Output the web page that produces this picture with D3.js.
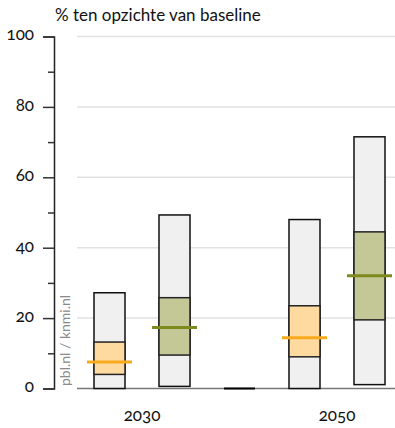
<!DOCTYPE html>
<html>
<head>
<meta charset="utf-8">
<script src="https://cdn.jsdelivr.net/npm/d3@7/dist/d3.min.js"></script>
<style>
  html, body { margin: 0; padding: 0; background: #fff; }
  svg { display: block; font-family: Lato, "Noto Sans", sans-serif; }
  text { font-variant-numeric: oldstyle-nums; font-feature-settings: "onum" 1; }
</style>
</head>
<body>
<svg id="chart" width="395" height="428"></svg>
<script>
// ---- data ----
const slots      = ["2030-a", "2030-b", "gap", "2050-a", "2050-b"];
const rangeLow   = [0,    0.6,  0, 0,    1.1];
const rangeHigh  = [27.2, 49.3, 0, 48.0, 71.5];
const bandLow    = [4.0,  9.5,  0, 9.0,  19.5];
const bandHigh   = [13.2, 25.8, 0, 23.5, 44.5];
const medians    = [7.5,  17.3, null, 14.4, 32.0];
const seriesKey  = ["orange", "green", "none", "orange", "green"];
const years      = ["2030", "2050"];
const yearSlots  = [["2030-a", "2030-b"], ["2050-a", "2050-b"]];
const yTicks     = [0, 20, 40, 60, 80, 100];
const yMinor     = [10, 30, 50, 70, 90];
const title      = "% ten opzichte van baseline";
const watermark  = "pbl.nl / knmi.nl";

const bandFill   = { orange: "#fed9a0", green: "#c4c897", none: "#eff0ef" };
const medianCol  = { orange: "#f7aa1c", green: "#7e8a1e", none: "none" };

const svg = d3.select("#chart");

const y = d3.scaleLinear().domain([0, 100]).range([388.5, 36.5]);
const x = d3.scaleBand().domain(slots).range([77, 402])
  .paddingInner(0.523).paddingOuter(0.2615);

// gridlines
svg.append("g").selectAll("line").data(yTicks.filter(d => d > 0)).join("line")
  .attr("x1", 77).attr("x2", 395)
  .attr("y1", d => y(d)).attr("y2", d => y(d))
  .attr("stroke", "#e2e2e2").attr("stroke-width", 1.5);

// baseline
svg.append("line").attr("x1", 77).attr("x2", 395)
  .attr("y1", y(0)).attr("y2", y(0))
  .attr("stroke", "#777").attr("stroke-width", 1.5);

// y axis
const yAxis = d3.axisLeft(y).tickValues(yTicks).tickSize(11).tickPadding(9)
  .tickFormat(d3.format("d"));
const gAxis = svg.append("g").attr("transform", "translate(54,0)").call(yAxis);
gAxis.select(".domain").attr("stroke", "#222").attr("stroke-width", 1.5);
gAxis.selectAll(".tick line").attr("stroke", "#333").attr("stroke-width", 1.5);
gAxis.selectAll(".tick text").attr("font-size", 17).attr("fill", "#111")
  .attr("font-family", "Lato").attr("dy", "0.2em");
const gMinor = svg.append("g").attr("transform", "translate(54,0)")
  .call(d3.axisLeft(y).tickValues(yMinor).tickSize(6).tickFormat(""));
gMinor.select(".domain").remove();
gMinor.selectAll(".tick line").attr("stroke", "#333").attr("stroke-width", 1.5);

// watermark
svg.append("text")
  .attr("transform", `translate(70,386) rotate(-90)`)
  .attr("font-size", 14).attr("fill", "#8a8a8a")
  .text(watermark);

// bars
const idx = d3.range(slots.length);
const g = svg.append("g");

// outer grey range boxes
g.selectAll("rect.range").data(idx).join("rect").attr("class", "range")
  .attr("x", i => x(slots[i]))
  .attr("width", x.bandwidth())
  .attr("y", i => y(rangeHigh[i]))
  .attr("height", i => y(rangeLow[i]) - y(rangeHigh[i]))
  .attr("fill", bandFill.none)
  .attr("stroke", "#111").attr("stroke-width", 1.5);

// inner coloured bands
g.selectAll("rect.band").data(idx.filter(i => bandHigh[i] > bandLow[i])).join("rect")
  .attr("class", "band")
  .attr("x", i => x(slots[i]))
  .attr("width", x.bandwidth())
  .attr("y", i => y(bandHigh[i]))
  .attr("height", i => y(bandLow[i]) - y(bandHigh[i]))
  .attr("fill", i => bandFill[seriesKey[i]])
  .attr("stroke", "#222").attr("stroke-width", 1.5);

// empty slot marker (zero-height box)
g.selectAll("line.zero").data(idx.filter(i => rangeHigh[i] === rangeLow[i])).join("line")
  .attr("class", "zero")
  .attr("x1", i => x(slots[i])).attr("x2", i => x(slots[i]) + x.bandwidth())
  .attr("y1", i => y(rangeLow[i])).attr("y2", i => y(rangeLow[i]))
  .attr("stroke", "#000").attr("stroke-width", 2);

// medians
g.selectAll("line.med").data(idx.filter(i => medians[i] !== null)).join("line")
  .attr("class", "med")
  .attr("x1", i => x(slots[i]) - 7).attr("x2", i => x(slots[i]) + x.bandwidth() + 7)
  .attr("y1", i => y(medians[i])).attr("y2", i => y(medians[i]))
  .attr("stroke", i => medianCol[seriesKey[i]]).attr("stroke-width", 3);

// year labels
svg.append("g").selectAll("text").data(years).join("text")
  .attr("x", (d, k) => d3.mean(yearSlots[k], s => x(s) + x.bandwidth() / 2))
  .attr("y", 421)
  .attr("text-anchor", "middle")
  .attr("font-size", 17).attr("fill", "#111")
  .text(d => d);

// title
svg.append("text").attr("x", 55).attr("y", 21)
  .attr("font-size", 17).attr("fill", "#111")
  .text(title);
</script>
</body>
</html>
